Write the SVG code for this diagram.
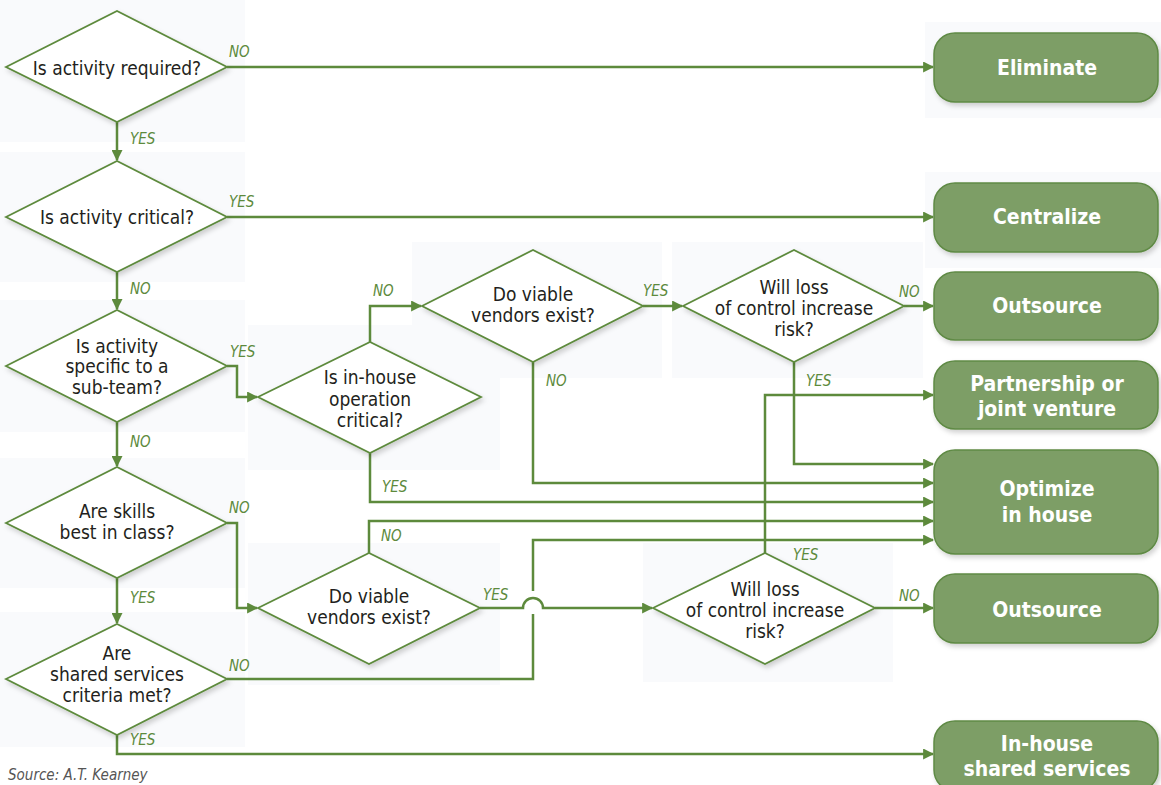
<svg xmlns="http://www.w3.org/2000/svg" width="1161" height="785" viewBox="0 0 1161 785">
<defs>
<marker id="ah" viewBox="0 0 10 10" refX="9" refY="5" markerWidth="11" markerHeight="11" markerUnits="userSpaceOnUse" orient="auto">
<path d="M0,0 L10,5 L0,10 z" fill="#5d8a3c"/>
</marker>
<filter id="sh" x="-10%" y="-10%" width="125%" height="130%">
<feDropShadow dx="2" dy="3" stdDeviation="2.5" flood-color="#000" flood-opacity="0.18"/>
</filter>
</defs>
<style>
.panel{fill:#f9fafc}
.dia{fill:#fff;stroke:#5d8a3c;stroke-width:1.8;filter:url(#sh)}
.term{fill:#7d9e66;stroke:#5f8a45;stroke-width:1.5;filter:url(#sh)}
.q{font-family:"Liberation Sans Narrow","DejaVu Sans Condensed","Roboto Condensed",Roboto,sans-serif;font-size:19px;fill:#231f20;text-anchor:middle}
.t{font-family:"Liberation Sans Narrow","DejaVu Sans Condensed","Roboto Condensed",Roboto,sans-serif;font-size:21px;font-weight:bold;fill:#fff;text-anchor:middle}
.lb{font-family:"Liberation Sans Narrow","DejaVu Sans Condensed","Roboto Condensed",Roboto,sans-serif;font-size:15px;font-style:italic;fill:#5d8a3c}
.ln{fill:none;stroke:#5d8a3c;stroke-width:2.5}
.src{font-family:"Liberation Sans Narrow","DejaVu Sans Condensed",Roboto,sans-serif;font-size:15px;font-style:italic;fill:#555}
</style>
<rect width="1161" height="785" fill="#fff"/>
<g id="panels">
<rect class="panel" x="0" y="0" width="245" height="142"/>
<rect class="panel" x="0" y="152" width="245" height="130"/>
<rect class="panel" x="0" y="300" width="245" height="132"/>
<rect class="panel" x="0" y="458" width="245" height="130"/>
<rect class="panel" x="0" y="612" width="245" height="135"/>
<rect class="panel" x="248" y="325" width="252" height="145"/>
<rect class="panel" x="412" y="242" width="250" height="136"/>
<rect class="panel" x="672" y="242" width="251" height="136"/>
<rect class="panel" x="248" y="543" width="252" height="142"/>
<rect class="panel" x="643" y="543" width="250" height="139"/>
<rect class="panel" x="925" y="22" width="236" height="96"/>
<rect class="panel" x="925" y="172" width="236" height="96"/>
</g>
<g id="connectors">
<path class="ln" d="M227,67 H933" marker-end="url(#ah)"/>
<path class="ln" d="M117,122 V160" marker-end="url(#ah)"/>
<path class="ln" d="M227,217 H933" marker-end="url(#ah)"/>
<path class="ln" d="M117,272 V309" marker-end="url(#ah)"/>
<path class="ln" d="M227,366 H237 V397 H257" marker-end="url(#ah)"/>
<path class="ln" d="M117,422 V466" marker-end="url(#ah)"/>
<path class="ln" d="M227,523 H237 V608 H257" marker-end="url(#ah)"/>
<path class="ln" d="M117,578 V623" marker-end="url(#ah)"/>
<path class="ln" d="M227,679 H533 V614"/>
<path class="ln" d="M533,591 V540 H933" marker-end="url(#ah)"/>
<path class="ln" d="M117,735 V754 H933" marker-end="url(#ah)"/>
<path class="ln" d="M370,342 V306 H421" marker-end="url(#ah)"/>
<path class="ln" d="M370,453 V502 H933" marker-end="url(#ah)"/>
<path class="ln" d="M533,362 V483 H933" marker-end="url(#ah)"/>
<path class="ln" d="M643,306 H682" marker-end="url(#ah)"/>
<path class="ln" d="M904,306 H933" marker-end="url(#ah)"/>
<path class="ln" d="M794,362 V464 H933" marker-end="url(#ah)"/>
<path class="ln" d="M369,553 V521 H933" marker-end="url(#ah)"/>
<path class="ln" d="M480,608 H523 A10,10 0 0 1 543,608 H652" marker-end="url(#ah)"/>
<path class="ln" d="M875,608 H933" marker-end="url(#ah)"/>
<path class="ln" d="M765,553 V395 H933" marker-end="url(#ah)"/>
</g>
<g id="labels">
<text class="lb" x="229" y="57">NO</text>
<text class="lb" x="130" y="144">YES</text>
<text class="lb" x="229" y="207">YES</text>
<text class="lb" x="130" y="294">NO</text>
<text class="lb" x="230" y="357">YES</text>
<text class="lb" x="130" y="447">NO</text>
<text class="lb" x="229" y="513">NO</text>
<text class="lb" x="130" y="603">YES</text>
<text class="lb" x="229" y="671">NO</text>
<text class="lb" x="130" y="745">YES</text>
<text class="lb" x="373" y="296">NO</text>
<text class="lb" x="643" y="296">YES</text>
<text class="lb" x="546" y="386">NO</text>
<text class="lb" x="382" y="492">YES</text>
<text class="lb" x="899" y="297">NO</text>
<text class="lb" x="806" y="386">YES</text>
<text class="lb" x="381" y="541">NO</text>
<text class="lb" x="483" y="600">YES</text>
<text class="lb" x="793" y="560">YES</text>
<text class="lb" x="899" y="601">NO</text>
</g>
<g id="d1"><polygon class="dia" points="6,67 117,11 227,67 117,122"/><text class="q" x="117" y="75">Is activity required?</text></g>
<g id="d2"><polygon class="dia" points="6,217 117,161 227,217 117,272"/><text class="q" x="117" y="224">Is activity critical?</text></g>
<g id="d3"><polygon class="dia" points="6,366 117,310 227,366 117,422"/><text class="q" x="117" y="353">Is activity</text><text class="q" x="117" y="373">specific to a</text><text class="q" x="117" y="394">sub-team?</text></g>
<g id="d4"><polygon class="dia" points="6,523 117,467 227,523 117,578"/><text class="q" x="117" y="518">Are skills</text><text class="q" x="117" y="539">best in class?</text></g>
<g id="d5"><polygon class="dia" points="6,679 117,624 227,679 117,735"/><text class="q" x="117" y="660">Are</text><text class="q" x="117" y="681">shared services</text><text class="q" x="117" y="702">criteria met?</text></g>
<g id="d6"><polygon class="dia" points="258,397 370,342 481,397 370,453"/><text class="q" x="370" y="384">Is in-house</text><text class="q" x="370" y="406">operation</text><text class="q" x="370" y="427">critical?</text></g>
<g id="d7"><polygon class="dia" points="422,306 533,250 643,306 533,362"/><text class="q" x="533" y="301">Do viable</text><text class="q" x="533" y="322">vendors exist?</text></g>
<g id="d8"><polygon class="dia" points="683,306 794,250 904,306 794,362"/><text class="q" x="794" y="294">Will loss</text><text class="q" x="794" y="315">of control increase</text><text class="q" x="794" y="336">risk?</text></g>
<g id="d9"><polygon class="dia" points="258,608 369,553 480,608 369,664"/><text class="q" x="369" y="603">Do viable</text><text class="q" x="369" y="624">vendors exist?</text></g>
<g id="d10"><polygon class="dia" points="653,608 765,553 875,608 765,664"/><text class="q" x="765" y="596">Will loss</text><text class="q" x="765" y="617">of control increase</text><text class="q" x="765" y="638">risk?</text></g>
<g id="t1"><rect class="term" x="934" y="33" width="224" height="69" rx="21"/><text class="t" x="1047" y="75">Eliminate</text></g>
<g id="t2"><rect class="term" x="934" y="183" width="224" height="69" rx="21"/><text class="t" x="1047" y="224">Centralize</text></g>
<g id="t3"><rect class="term" x="934" y="272" width="224" height="68" rx="21"/><text class="t" x="1047" y="313">Outsource</text></g>
<g id="t4"><rect class="term" x="934" y="361" width="224" height="68" rx="21"/><text class="t" x="1047" y="391">Partnership or</text><text class="t" x="1047" y="416">joint venture</text></g>
<g id="t5"><rect class="term" x="934" y="450" width="224" height="104" rx="21"/><text class="t" x="1047" y="496">Optimize</text><text class="t" x="1047" y="522">in house</text></g>
<g id="t6"><rect class="term" x="934" y="574" width="224" height="69" rx="21"/><text class="t" x="1047" y="617">Outsource</text></g>
<g id="t7"><rect class="term" x="934" y="721" width="224" height="70" rx="21"/><text class="t" x="1047" y="751">In-house</text><text class="t" x="1047" y="776">shared services</text></g>
<text class="src" x="8" y="780">Source: A.T. Kearney</text>
</svg>
